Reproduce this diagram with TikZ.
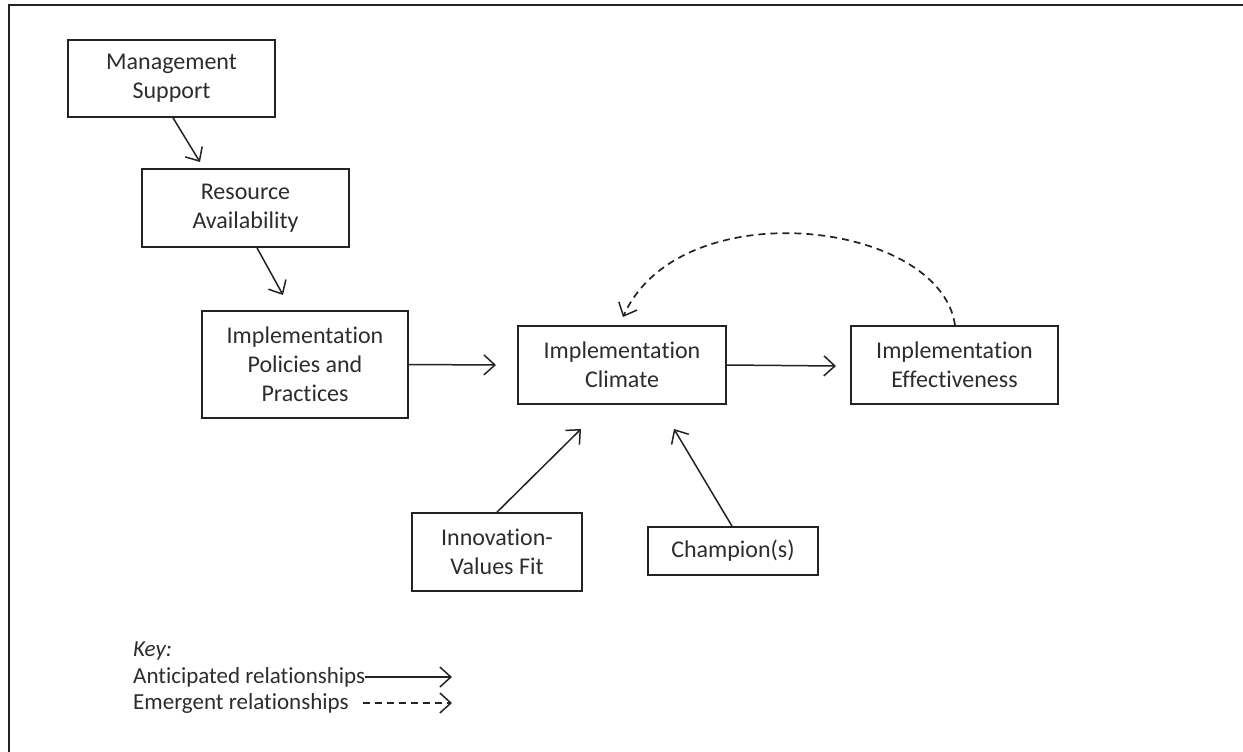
\documentclass[tikz,border=0pt]{standalone}
\usepackage{fontspec}
\setmainfont{Carlito}[Ligatures=NoCommon]
\usetikzlibrary{arrows.meta}

\definecolor{ink}{RGB}{35,35,35}
\definecolor{txt}{RGB}{45,45,45}

\tikzset{
  box/.style={draw=ink, line width=1.7pt, align=center, inner sep=0pt,
              font=\fontsize{24}{29}\selectfont, text=txt},
  arr/.style={draw=ink, line width=1.5pt,
              -{Straight Barb[length=11pt,width=20pt,line width=1.5pt]}},
  emerge/.style={arr, line width=1.7pt, dash pattern=on 7pt off 5pt},
  keytext/.style={anchor=west, inner sep=0pt, text=txt,
                  font=\fontsize{23}{27}\selectfont},
}

\begin{document}
\begin{tikzpicture}[x=1pt, y=-1pt]
  \useasboundingbox (0,0) rectangle (1243,752);
  \fill[white] (0,0) rectangle (1243,752);

  % frame around the figure
  \draw[ink, line width=1.5pt] (9,752) -- (9,5) -- (1243,5);

  % constructs
  \node[box, minimum width=207pt, minimum height=77pt]  (ms)  at (171.5,78.5) {Management\\Support};
  \node[box, minimum width=207pt, minimum height=78pt]  (ra)  at (245.5,208)  {Resource\\Availability};
  \node[box, minimum width=206pt, minimum height=107pt] (ipp) at (305,364.5)  {Implementation\\Policies and\\Practices};
  \node[box, minimum width=208pt, minimum height=78pt]  (ic)  at (622,365)    {Implementation\\Climate};
  \node[box, minimum width=207pt, minimum height=78pt]  (ie)  at (954.5,365)  {Implementation\\Effectiveness};
  \node[box, minimum width=170pt, minimum height=78pt]  (ivf) at (497,552)    {Innovation-\\Values Fit};
  \node[box, minimum width=170pt, minimum height=48pt]  (ch)  at (733,551)    {Champion(s)};

  % arrow tips stopping short of the target boxes
  \coordinate (ra-in)   at (200,162);
  \coordinate (ipp-in)  at (283,295);
  \coordinate (ic-in)   at (496,365);
  \coordinate (ie-in)   at (836,366);
  \coordinate (ic-in2)  at (581,429);
  \coordinate (ic-in3)  at (674,429);
  \coordinate (ic-top)  at (623,317);

  % anticipated relationships
  \draw[arr] ([xshift=1.5pt]ms.south) -- (ra-in);
  \draw[arr] ([xshift=11.5pt]ra.south) -- (ipp-in);
  \draw[arr] (ipp.east) -- (ic-in);
  \draw[arr] (ic.east) -- (ie-in);
  \draw[arr] (ivf.north) -- (ic-in2);
  \draw[arr] ([xshift=-1pt]ch.north) -- (ic-in3);

  % emergent feedback
  \draw[emerge] ([xshift=0.5pt]ie.north) .. controls (940,220) and (680,190) .. (ic-top);

  % key
  \node[keytext, font=\fontsize{23}{27}\selectfont\itshape] (keyhead) at (133,651) {Key:};
  \node[keytext] (keyant) at (133,677) {Anticipated relationships};
  \node[keytext] (keyem)  at (133,703) {Emergent relationships};
  \coordinate (keyant-end) at (452,677);
  \coordinate (keyem-end)  at (452,703);
  \draw[arr] (keyant.east) -- (keyant-end);
  \draw[emerge] (363,703) -- (keyem-end);
\end{tikzpicture}
\end{document}
